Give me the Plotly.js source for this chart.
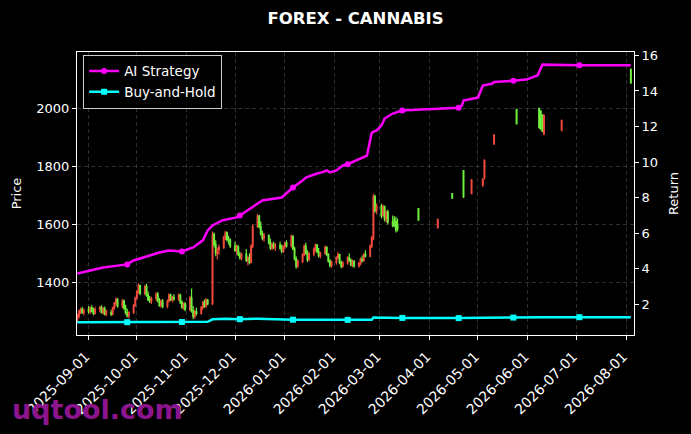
<!DOCTYPE html>
<html><head><meta charset="utf-8">
<script src="https://cdn.plot.ly/plotly-3.0.1.min.js"></script>
<style>html,body{margin:0;padding:0;background:#000;}#chart{width:691px;height:434px;}</style>
</head><body><div id="chart"></div>
<script>
// ---- Candle data (price, left axis) ----
const candleDates = [
 '2025-08-25','2025-08-26','2025-08-27','2025-08-28','2025-08-29',
 '2025-09-01','2025-09-02','2025-09-03','2025-09-04','2025-09-05',
 '2025-09-08','2025-09-09','2025-09-10','2025-09-11','2025-09-12',
 '2025-09-15','2025-09-16','2025-09-17','2025-09-18','2025-09-19',
 '2025-09-22','2025-09-23','2025-09-24','2025-09-25','2025-09-26',
 '2025-09-29','2025-09-30','2025-10-01','2025-10-02','2025-10-03',
 '2025-10-06','2025-10-07','2025-10-08','2025-10-09','2025-10-10',
 '2025-10-13','2025-10-14','2025-10-15','2025-10-16','2025-10-17',
 '2025-10-20','2025-10-21','2025-10-22','2025-10-23','2025-10-24',
 '2025-10-27','2025-10-28','2025-10-29','2025-10-30','2025-10-31',
 '2025-11-03','2025-11-04','2025-11-05','2025-11-06','2025-11-07',
 '2025-11-10','2025-11-11','2025-11-12','2025-11-13','2025-11-14',
 '2025-11-17','2025-11-18','2025-11-19','2025-11-20','2025-11-21',
 '2025-11-24','2025-11-25','2025-11-26','2025-11-27','2025-11-28',
 '2025-12-01','2025-12-02','2025-12-03','2025-12-04','2025-12-05',
 '2025-12-08','2025-12-09','2025-12-10','2025-12-11','2025-12-12',
 '2025-12-15','2025-12-16','2025-12-17','2025-12-18','2025-12-19',
 '2025-12-22','2025-12-23','2025-12-24','2025-12-25','2025-12-26',
 '2025-12-29','2025-12-30','2025-12-31','2026-01-01','2026-01-02',
 '2026-01-05','2026-01-06','2026-01-07','2026-01-08','2026-01-09',
 '2026-01-12','2026-01-13','2026-01-14','2026-01-15','2026-01-16',
 '2026-01-19','2026-01-20','2026-01-21','2026-01-22','2026-01-23',
 '2026-01-26','2026-01-27','2026-01-28','2026-01-29','2026-01-30',
 '2026-02-02','2026-02-03','2026-02-04','2026-02-05','2026-02-06',
 '2026-02-09','2026-02-10','2026-02-11','2026-02-12','2026-02-13',
 '2026-02-16','2026-02-17','2026-02-18','2026-02-19','2026-02-20',
 '2026-02-23','2026-02-24','2026-02-25','2026-02-26','2026-02-27',
 '2026-03-02','2026-03-03','2026-03-04','2026-03-05','2026-03-06',
 '2026-03-09','2026-03-10','2026-03-11','2026-03-12',
 '2026-03-25','2026-04-06','2026-04-15','2026-04-22','2026-04-27',
 '2026-05-04','2026-05-05','2026-05-11','2026-05-25',
 '2026-06-08','2026-06-09','2026-06-10','2026-06-11','2026-06-22','2026-08-04'
];
const openP = [
 1268,1283,1298,1305,1296,
 1305,1300,1312,1298,1292,
 1306,1312,1296,1308,1290,
 1295,1290,1312,1328,1340,
 1318,1335,1310,1295,1284,
 1296,1320,1345,1368,1388,
 1362,1385,1356,1340,1335,
 1345,1358,1336,1320,1334,
 1316,1335,1355,1340,1348,
 1342,1355,1330,1314,1325,
 1306,1345,1300,1282,1298,
 1292,1312,1330,1318,1338,
 1326,1565,1530,1500,1512,
 1520,1555,1570,1548,1545,
 1525,1510,1522,1495,1484,
 1498,1475,1485,1468,1525,
 1592,1628,1592,1568,1552,
 1562,1536,1518,1530,1522,
 1528,1518,1506,1524,1535,
 1526,1558,1515,1480,1455,
 1472,1495,1524,1500,1478,
 1498,1515,1528,1505,1492,
 1500,1520,1495,1472,1458,
 1468,1485,1495,1468,1455,
 1466,1484,1476,1460,1472,
 1456,1465,1480,1475,1496,
 1490,1525,1552,1695,1648,
 1662,1630,1660,1618,1642,
 1608,1618,1610,1598,
 1654,1588,1706,1785,1706,
 1735,1760,1877,1997,
 2000,1992,1978,1912,1925,2135
];
const highP = [
 1290,1305,1312,1315,1310,
 1318,1316,1320,1312,1315,
 1318,1320,1314,1316,1305,
 1305,1315,1332,1348,1345,
 1342,1340,1322,1308,1300,
 1325,1350,1372,1396,1392,
 1390,1395,1368,1352,1350,
 1365,1366,1345,1340,1342,
 1340,1362,1360,1352,1358,
 1362,1360,1338,1330,1332,
 1352,1378,1318,1305,1312,
 1318,1335,1340,1345,1342,
 1575,1572,1545,1520,1530,
 1560,1578,1575,1560,1552,
 1540,1530,1528,1505,1502,
 1515,1490,1500,1530,1600,
 1636,1632,1610,1578,1570,
 1565,1550,1538,1540,1535,
 1540,1530,1528,1540,1545,
 1565,1562,1522,1490,1478,
 1500,1530,1536,1510,1505,
 1520,1534,1532,1518,1505,
 1527,1524,1500,1480,1475,
 1490,1503,1498,1475,1472,
 1490,1499,1482,1478,1476,
 1470,1485,1492,1500,1510,
 1530,1560,1705,1702,1672,
 1671,1668,1665,1648,1650,
 1630,1628,1626,1620,
 1656,1620,1708,1787,1756,
 1760,1825,1911,1998,
 2001,1994,1980,1980,1962,2138
];
const lowP = [
 1260,1275,1290,1290,1285,
 1292,1290,1295,1286,1288,
 1296,1292,1288,1285,1282,
 1283,1286,1305,1318,1312,
 1310,1305,1288,1278,1275,
 1290,1315,1340,1360,1355,
 1355,1350,1335,1328,1325,
 1335,1330,1315,1312,1310,
 1310,1330,1335,1330,1336,
 1335,1325,1308,1305,1300,
 1300,1295,1272,1275,1285,
 1288,1305,1312,1312,1320,
 1320,1520,1490,1478,1495,
 1515,1545,1540,1530,1518,
 1505,1495,1490,1478,1475,
 1470,1458,1462,1465,1518,
 1588,1585,1560,1545,1540,
 1530,1512,1510,1515,1508,
 1512,1500,1502,1515,1520,
 1520,1510,1475,1446,1450,
 1465,1490,1495,1470,1472,
 1490,1505,1500,1485,1482,
 1495,1490,1468,1452,1450,
 1460,1478,1462,1448,1450,
 1460,1470,1455,1452,1450,
 1450,1458,1468,1470,1485,
 1486,1518,1545,1640,1635,
 1620,1625,1610,1605,1600,
 1590,1590,1572,1575,
 1612,1585,1688,1691,1704,
 1730,1755,1875,1945,
 1930,1925,1918,1908,1920,2085
];
const closeP = [
 1285,1300,1305,1296,1302,
 1300,1310,1298,1292,1306,
 1312,1296,1308,1290,1300,
 1290,1312,1328,1340,1318,
 1335,1310,1295,1284,1296,
 1320,1345,1368,1388,1362,
 1385,1356,1340,1335,1345,
 1358,1336,1320,1334,1316,
 1335,1355,1340,1348,1342,
 1355,1330,1314,1325,1306,
 1345,1300,1282,1298,1292,
 1312,1330,1318,1338,1326,
 1565,1530,1500,1512,1520,
 1555,1570,1548,1545,1525,
 1510,1522,1495,1484,1498,
 1475,1485,1468,1525,1592,
 1628,1592,1568,1552,1562,
 1536,1518,1530,1522,1528,
 1518,1506,1524,1535,1526,
 1558,1515,1480,1455,1472,
 1495,1524,1500,1478,1498,
 1515,1528,1505,1492,1500,
 1520,1495,1472,1458,1468,
 1485,1495,1468,1455,1466,
 1484,1476,1460,1472,1456,
 1465,1480,1475,1496,1490,
 1525,1552,1695,1648,1662,
 1630,1660,1618,1642,1608,
 1596,1595,1580,1585,
 1614,1616,1690,1695,1752,
 1755,1820,1908,1947,
 1935,1930,1922,1975,1958,2088
];

// ---- Return lines (right axis) ----
const aiDates = ['2025-08-25','2025-09-10','2025-09-25','2025-09-29','2025-10-09','2025-10-15','2025-10-21','2025-10-29',
 '2025-11-05','2025-11-11','2025-11-14','2025-11-17','2025-11-23','2025-12-02','2025-12-04','2025-12-10','2025-12-12',
 '2025-12-18','2025-12-30','2026-01-04','2026-01-06','2026-01-12','2026-01-14','2026-01-21','2026-01-24','2026-01-27',
 '2026-01-29','2026-02-02','2026-02-06','2026-02-09','2026-02-14','2026-02-21','2026-02-24','2026-02-27','2026-03-02',
 '2026-03-04','2026-03-09','2026-03-15','2026-03-27','2026-04-17','2026-04-19','2026-04-21','2026-04-22','2026-05-01',
 '2026-05-04','2026-05-10','2026-05-11','2026-05-23','2026-05-31','2026-06-07','2026-06-10','2026-07-03','2026-08-04'];
const aiReturn = [3.74,4.08,4.25,4.47,4.75,4.92,5.03,4.98,
 5.20,5.60,6.16,6.44,6.72,6.89,7.00,7.34,7.45,
 7.84,8.01,8.40,8.57,8.97,9.13,9.36,9.42,9.53,
 9.42,9.53,9.81,9.88,10.09,10.37,11.66,11.78,12.06,
 12.45,12.73,12.90,12.96,13.01,13.05,13.18,13.46,13.63,
 14.30,14.42,14.50,14.58,14.64,14.87,15.48,15.45,15.45];
const bhDates = ['2025-08-25','2025-09-25','2025-10-29','2025-11-14','2025-11-17','2025-11-25','2025-12-04','2025-12-15',
 '2026-01-06','2026-02-09','2026-02-24','2026-02-25','2026-03-15','2026-04-19','2026-05-11','2026-05-23','2026-06-10',
 '2026-07-03','2026-08-04'];
const bhReturn = [1.00,1.00,1.01,1.02,1.16,1.20,1.17,1.20,
 1.14,1.13,1.14,1.27,1.24,1.23,1.27,1.26,1.28,
 1.28,1.28];
const markerDates = ['2025-09-25','2025-10-29','2025-12-04','2026-01-06','2026-02-09','2026-03-15','2026-04-19','2026-05-23','2026-07-03'];

const monthTicks = ['2025-09-01','2025-10-01','2025-11-01','2025-12-01','2026-01-01','2026-02-01','2026-03-01',
 '2026-04-01','2026-05-01','2026-06-01','2026-07-01','2026-08-01'];
const priceTicks = [1400,1600,1800,2000];
const returnTicks = [2,4,6,8,10,12,14,16];

const RED = '#f04a3c', GREEN = '#6ff03c', MAG = '#ff00ff', CYAN = '#00ffff';

function pick(dates, vals) {
  const xs = [], ys = [];
  dates.forEach((d, i) => { if (markerDates.includes(d)) { xs.push(d); ys.push(vals[i]); } });
  return {xs, ys};
}
const aiM = pick(aiDates, aiReturn), bhM = pick(bhDates, bhReturn);

const traces = [
 {type:'candlestick', x:candleDates, open:openP, high:highP, low:lowP, close:closeP,
  xaxis:'x', yaxis:'y', showlegend:false, hoverinfo:'skip',
  increasing:{line:{color:RED,width:1.2}, fillcolor:RED},
  decreasing:{line:{color:GREEN,width:1.2}, fillcolor:GREEN}},
 {type:'scatter', mode:'lines', x:aiDates, y:aiReturn, yaxis:'y2', showlegend:false,
  line:{color:MAG,width:2.5}},
 {type:'scatter', mode:'markers', x:aiM.xs, y:aiM.ys, yaxis:'y2', showlegend:false,
  marker:{color:MAG,size:6,symbol:'circle'}},
 {type:'scatter', mode:'lines', x:bhDates, y:bhReturn, yaxis:'y2', showlegend:false,
  line:{color:CYAN,width:2.5}},
 {type:'scatter', mode:'markers', x:bhM.xs, y:bhM.ys, yaxis:'y2', showlegend:false,
  marker:{color:CYAN,size:6,symbol:'square'}},
 {type:'scatter', mode:'lines+markers', x:[null], y:[null], yaxis:'y2', name:'AI Strategy',
  line:{color:MAG,width:2.5}, marker:{color:MAG,size:6,symbol:'circle'}},
 {type:'scatter', mode:'lines+markers', x:[null], y:[null], yaxis:'y2', name:'Buy-and-Hold',
  line:{color:CYAN,width:2.5}, marker:{color:CYAN,size:6,symbol:'square'}}
];

const gridC = 'rgba(128,128,128,0.45)';
const layout = {
 width:691, height:434,
 paper_bgcolor:'#000', plot_bgcolor:'#000',
 font:{family:'DejaVu Sans', color:'#fff', size:13},
 margin:{l:77, r:57, t:52, b:99, pad:0},
 title:{text:'<b>FOREX - CANNABIS</b>', font:{size:16.5, color:'#fff', family:'DejaVu Sans'},
  x:0.5, xanchor:'center', xref:'paper', y:1-18/434, yanchor:'middle', yref:'container'},
 showlegend:true,
 legend:{x:0.011, y:0.99, xanchor:'left', yanchor:'top', bgcolor:'rgba(0,0,0,0.8)',
  bordercolor:'#cccccc', borderwidth:1, font:{size:13.5, color:'#fff'}, tracegroupgap:0, itemwidth:30},
 xaxis:{type:'date', range:['2025-08-24 19:00','2026-08-05 23:00'], rangeslider:{visible:false},
  tickmode:'array', tickvals:monthTicks, ticktext:monthTicks, tickangle:-45,
  ticks:'outside', ticklen:4, tickcolor:'#fff', tickwidth:1, tickfont:{size:14, color:'#fff'},
  ticklabelstandoff:3, ticklabelshift:-3,
  showline:true, linecolor:'#fff', linewidth:1, mirror:true,
  showgrid:true, gridcolor:gridC, griddash:'4px,3px', gridwidth:0.8, zeroline:false, automargin:false},
 yaxis:{range:[1217.6,2195], tickmode:'array', tickvals:priceTicks, ticks:'outside', ticklen:4, tickcolor:'#fff',
  tickfont:{size:13, color:'#fff'}, showline:true, linecolor:'#fff', linewidth:1, mirror:true,
  showgrid:true, gridcolor:gridC, griddash:'4px,3px', gridwidth:0.8, zeroline:false, automargin:false,
  title:{text:'Price', font:{size:13, color:'#fff'}, standoff:11}},
 yaxis2:{overlaying:'y', side:'right', range:[0.28,16.19], tickmode:'array', tickvals:returnTicks,
  ticks:'outside', ticklen:4, tickcolor:'#fff', tickfont:{size:13, color:'#fff'},
  showgrid:false, zeroline:false, showline:false, automargin:false,
  title:{text:'Return', font:{size:13, color:'#fff'}, standoff:11}},
 annotations:[{text:'<b>uqtool.com</b>', xref:'paper', yref:'paper', x:-0.120, y:-0.265,
  xanchor:'left', yanchor:'middle', showarrow:false, font:{size:27, color:'#8c148c', family:'DejaVu Sans'}}]
};

const lens = [candleDates.length, openP.length, highP.length, lowP.length, closeP.length];
if (new Set(lens).size !== 1) console.error('length mismatch', lens);
Plotly.newPlot('chart', traces, layout, {staticPlot:true, displayModeBar:false});
</script></body></html>
